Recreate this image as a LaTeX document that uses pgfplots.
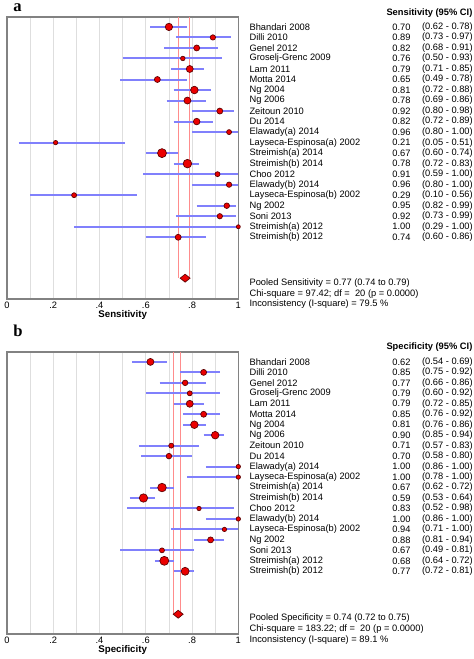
\documentclass[border=0pt]{standalone}
\usepackage{pgfplots}
\usepackage{pgfplotstable}
\pgfplotsset{compat=1.18}
\usepackage{fontspec}
\setmainfont{Liberation Sans}
\newfontfamily\serifbf{Liberation Serif}
\definecolor{cibar}{RGB}{128,128,252}
\definecolor{ptc}{RGB}{235,0,0}
\definecolor{ptedge}{RGB}{90,0,0}
\definecolor{pool}{RGB}{255,140,140}
\definecolor{gridc}{RGB}{222,222,222}
\definecolor{framec}{RGB}{130,130,130}

% row est lo hi radius(px)
\pgfplotstableread{
row est lo hi r
1 0.70 0.62 0.78 3.7
2 0.89 0.73 0.97 2.7
3 0.82 0.68 0.91 3.0
4 0.76 0.50 0.93 2.3
5 0.79 0.71 0.85 3.5
6 0.65 0.49 0.78 3.0
7 0.81 0.72 0.88 3.8
8 0.78 0.69 0.86 3.5
9 0.92 0.80 0.98 3.0
10 0.82 0.72 0.89 3.3
11 0.96 0.80 1.00 2.5
12 0.21 0.05 0.51 2.2
13 0.67 0.60 0.74 4.5
14 0.78 0.72 0.83 4.3
15 0.91 0.59 1.00 2.5
16 0.96 0.80 1.00 2.7
17 0.29 0.10 0.56 2.5
18 0.95 0.82 0.99 2.8
19 0.92 0.73 0.99 2.7
20 1.00 0.29 1.00 2.0
21 0.74 0.60 0.86 3.0
}\sensdata

\pgfplotstableread{
row est lo hi r
1 0.62 0.54 0.69 3.5
2 0.85 0.75 0.92 3.0
3 0.77 0.66 0.86 2.8
4 0.79 0.60 0.92 2.5
5 0.79 0.72 0.85 3.5
6 0.85 0.76 0.92 3.0
7 0.81 0.76 0.86 3.8
8 0.90 0.85 0.94 3.8
9 0.71 0.57 0.83 2.5
10 0.70 0.58 0.80 2.8
11 1.00 0.86 1.00 2.2
12 1.00 0.78 1.00 2.2
13 0.67 0.62 0.72 4.3
14 0.59 0.53 0.64 4.2
15 0.83 0.52 0.98 2.2
16 1.00 0.86 1.00 2.2
17 0.94 0.71 1.00 2.2
18 0.88 0.81 0.94 3.0
19 0.67 0.49 0.81 2.5
20 0.68 0.64 0.72 4.5
21 0.77 0.72 0.81 4.0
}\specdata

\pgfplotsset{
  forest/.style={
    scale only axis, width=174pt, height=212.25pt,
    xmin=0, xmax=1, y dir=reverse,
    clip=false,
    axis line style={framec, line width=1.1pt},
    xtick={0,0.2,0.4,0.6,0.8,1}, xticklabels={0,.2,.4,.6,.8,1},
    minor xtick={0.1,0.3,0.5,0.7,0.9},
    xmajorgrids, xminorgrids,
    major grid style={gridc, line width=0.6pt},
    minor grid style={gridc, line width=0.6pt},
    ytick=\empty,
    major tick length=0pt, minor tick length=0pt,
    /pgf/number format/assume math mode=true,
    tick label style={font=\fontsize{7}{8}\selectfont},
    xticklabel style={anchor=center, yshift=-4.9pt},
    xlabel style={font=\bfseries\fontsize{7.3}{8}\selectfont, at={(axis description cs:0.5,0)}, anchor=center, yshift=-12pt},
  },
  cis/.style={draw=cibar, line width=1.5pt, mark=none, forget plot,
    quiver={u=\thisrow{hi}-\thisrow{lo}, v=0},
  },
  studies/.style={scatter, only marks, mark=*,
    scatter/use mapped color={draw=ptedge, fill=ptc},
    mark options={line width=0.5pt},
    visualization depends on={\thisrow{r}\as\rad},
    scatter/@pre marker code/.append style={/tikz/mark size=0.75*\rad},
  },
}

\begin{document}
\begin{tikzpicture}
\begin{scope}[x=0.75pt,y=-0.75pt]
\path[use as bounding box] (0,0) rectangle (472,659);
\end{scope}

% ---------- panel a ----------
\begin{axis}[forest, at={(3pt,-12.75pt)}, anchor=north west,
  ymin=0.052, ymax=26.88, xlabel={Sensitivity}]
\addplot[pool, line width=1pt] coordinates {(0.74,0.052) (0.74,24.89)};
\addplot[pool, line width=1pt] coordinates {(0.79,0.052) (0.79,24.89)};
\addplot[cis] table[x=lo, y=row] \sensdata;
\addplot[studies] table[x=est, y=row] \sensdata;
\addplot[only marks, mark=diamond*, mark size=3pt,
  mark options={draw=ptedge, fill=ptc, line width=0.5pt, xscale=1.667}]
  coordinates {(0.77,24.89)};
\end{axis}

% ---------- panel b ----------
\begin{axis}[forest, at={(3pt,-264.75pt)}, anchor=north west,
  ymin=0.048, ymax=27.0, xlabel={Specificity}]
\addplot[pool, line width=1pt] coordinates {(0.72,0.048) (0.72,25.1)};
\addplot[pool, line width=1pt] coordinates {(0.75,0.048) (0.75,25.1)};
\addplot[cis] table[x=lo, y=row] \specdata;
\addplot[studies] table[x=est, y=row] \specdata;
\addplot[only marks, mark=diamond*, mark size=3pt,
  mark options={draw=ptedge, fill=ptc, line width=0.5pt, xscale=1.667}]
  coordinates {(0.74,25.1)};
\end{axis}

% ---------- texts ----------
\begin{scope}[x=0.75pt,y=-0.75pt, every node/.style={inner sep=0pt, font=\fontsize{7}{8}\selectfont}]
\node[anchor=base west, font=\serifbf\bfseries\fontsize{12.5}{13}\selectfont] at (10,12) {a};
\node[anchor=base west, font=\serifbf\bfseries\fontsize{12.5}{13}\selectfont] at (10,338) {b};

\node[anchor=east, font=\bfseries\fontsize{7}{8}\selectfont] at (471,12.7) {Sensitivity (95\% CI)};
\foreach \n/\v/\c [count=\i from 0] in {
  Bhandari 2008/0.70/(0.62 - 0.78),
  Dilli 2010/0.89/(0.73 - 0.97),
  Genel 2012/0.82/(0.68 - 0.91),
  Groselj-Grenc 2009/0.76/(0.50 - 0.93),
  Lam 2011/0.79/(0.71 - 0.85),
  Motta 2014/0.65/(0.49 - 0.78),
  Ng 2004/0.81/(0.72 - 0.88),
  Ng 2006/0.78/(0.69 - 0.86),
  Zeitoun 2010/0.92/(0.80 - 0.98),
  Du 2014/0.82/(0.72 - 0.89),
  Elawady(a) 2014/0.96/(0.80 - 1.00),
  Layseca-Espinosa(a) 2002/0.21/(0.05 - 0.51),
  Streimish(a) 2014/0.67/(0.60 - 0.74),
  Streimish(b) 2014/0.78/(0.72 - 0.83),
  Choo 2012/0.91/(0.59 - 1.00),
  Elawady(b) 2014/0.96/(0.80 - 1.00),
  Layseca-Espinosa(b) 2002/0.29/(0.10 - 0.56),
  Ng 2002/0.95/(0.82 - 0.99),
  Soni 2013/0.92/(0.73 - 0.99),
  Streimish(a) 2012/1.00/(0.29 - 1.00),
  Streimish(b) 2012/0.74/(0.60 - 0.86)}{
  \node[anchor=west] at (247,27+10.55*\i) {\n};
  \node[anchor=east] at (409,27+10.55*\i) {\v};
  \node[anchor=west] at (420,27+10.55*\i) {\c};
}
\node[anchor=west] at (247,284) {Pooled Sensitivity = 0.77 (0.74 to 0.79)};
\node[anchor=west] at (247,295) {Chi-square = 97.42; df =\ \ 20 (p = 0.0000)};
\node[anchor=west] at (247,305.5) {Inconsistency (I-square) = 79.5 \%};

\node[anchor=east, font=\bfseries\fontsize{7}{8}\selectfont] at (471,348) {Specificity (95\% CI)};
\foreach \n/\v/\c [count=\i from 0] in {
  Bhandari 2008/0.62/(0.54 - 0.69),
  Dilli 2010/0.85/(0.75 - 0.92),
  Genel 2012/0.77/(0.66 - 0.86),
  Groselj-Grenc 2009/0.79/(0.60 - 0.92),
  Lam 2011/0.79/(0.72 - 0.85),
  Motta 2014/0.85/(0.76 - 0.92),
  Ng 2004/0.81/(0.76 - 0.86),
  Ng 2006/0.90/(0.85 - 0.94),
  Zeitoun 2010/0.71/(0.57 - 0.83),
  Du 2014/0.70/(0.58 - 0.80),
  Elawady(a) 2014/1.00/(0.86 - 1.00),
  Layseca-Espinosa(a) 2002/1.00/(0.78 - 1.00),
  Streimish(a) 2014/0.67/(0.62 - 0.72),
  Streimish(b) 2014/0.59/(0.53 - 0.64),
  Choo 2012/0.83/(0.52 - 0.98),
  Elawady(b) 2014/1.00/(0.86 - 1.00),
  Layseca-Espinosa(b) 2002/0.94/(0.71 - 1.00),
  Ng 2002/0.88/(0.81 - 0.94),
  Soni 2013/0.67/(0.49 - 0.81),
  Streimish(a) 2012/0.68/(0.64 - 0.72),
  Streimish(b) 2012/0.77/(0.72 - 0.81)}{
  \node[anchor=west] at (247,363+10.5*\i) {\n};
  \node[anchor=east] at (409,363+10.5*\i) {\v};
  \node[anchor=west] at (420,363+10.5*\i) {\c};
}
\node[anchor=west] at (247,620) {Pooled Specificity = 0.74 (0.72 to 0.75)};
\node[anchor=west] at (247,631) {Chi-square = 183.22; df =\ \ 20 (p = 0.0000)};
\node[anchor=west] at (247,642) {Inconsistency (I-square) = 89.1 \%};
\end{scope}
\end{tikzpicture}
\end{document}
